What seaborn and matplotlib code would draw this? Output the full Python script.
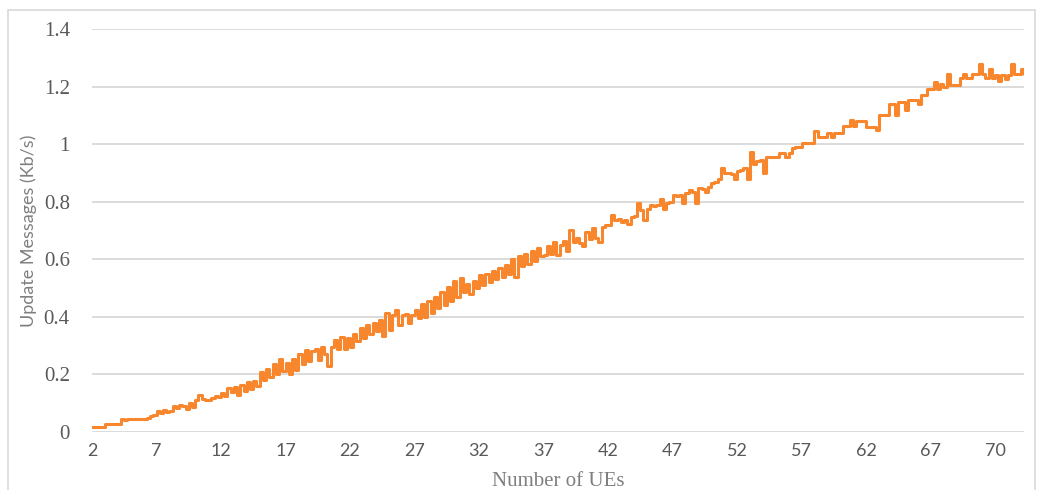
import matplotlib
matplotlib.use("Agg")
import matplotlib.pyplot as plt
import numpy as np
import pandas as pd
import seaborn as sns
from matplotlib.patches import Rectangle

# samples, 20 per labelled interval
seg_2_7 = [0.017, 0.017, 0.017, 0.017, 0.027, 0.027, 0.027, 0.027, 0.027, 0.045,
           0.040, 0.045, 0.045, 0.045, 0.045, 0.045, 0.045, 0.048, 0.055, 0.060]
seg_7_12 = [0.072, 0.065, 0.075, 0.070, 0.072, 0.090, 0.085, 0.095, 0.090, 0.080,
            0.100, 0.087, 0.110, 0.128, 0.115, 0.110, 0.112, 0.118, 0.125, 0.120]
seg_12_17 = [0.135, 0.125, 0.152, 0.138, 0.158, 0.128, 0.162, 0.142, 0.172, 0.148,
             0.178, 0.160, 0.208, 0.180, 0.218, 0.190, 0.235, 0.200, 0.255, 0.212]
seg_17_22 = [0.240, 0.200, 0.255, 0.215, 0.270, 0.235, 0.285, 0.245, 0.280, 0.290,
             0.250, 0.295, 0.270, 0.228, 0.295, 0.320, 0.290, 0.330, 0.290, 0.325]
seg_22_27 = [0.295, 0.340, 0.315, 0.360, 0.325, 0.370, 0.340, 0.380, 0.350, 0.390,
             0.335, 0.415, 0.355, 0.405, 0.425, 0.370, 0.405, 0.410, 0.380, 0.405]
seg_27_32 = [0.425, 0.395, 0.445, 0.400, 0.455, 0.415, 0.470, 0.430, 0.485, 0.440,
             0.505, 0.455, 0.525, 0.470, 0.535, 0.485, 0.515, 0.480, 0.525, 0.500]
seg_32_37 = [0.545, 0.510, 0.550, 0.520, 0.560, 0.530, 0.570, 0.540, 0.580, 0.550,
             0.600, 0.540, 0.610, 0.575, 0.620, 0.585, 0.630, 0.595, 0.640, 0.610]
seg_37_42 = [0.615, 0.645, 0.620, 0.660, 0.615, 0.650, 0.665, 0.630, 0.700, 0.660,
             0.675, 0.655, 0.645, 0.695, 0.670, 0.710, 0.675, 0.660, 0.712, 0.720]
seg_42_47 = [0.720, 0.755, 0.737, 0.740, 0.730, 0.737, 0.723, 0.747, 0.750, 0.795,
             0.770, 0.737, 0.775, 0.790, 0.785, 0.790, 0.810, 0.775, 0.795, 0.800]
seg_47_52 = [0.823, 0.820, 0.825, 0.795, 0.830, 0.840, 0.835, 0.795, 0.847, 0.845,
             0.835, 0.850, 0.865, 0.870, 0.880, 0.917, 0.900, 0.900, 0.895, 0.880]
seg_52_57 = [0.905, 0.910, 0.917, 0.880, 0.973, 0.930, 0.940, 0.945, 0.900, 0.955,
             0.955, 0.955, 0.955, 0.968, 0.968, 0.955, 0.968, 0.985, 0.990, 0.990]
seg_57_62 = [1.005, 1.005, 1.005, 1.005, 1.045, 1.025, 1.025, 1.025, 1.040, 1.025,
             1.040, 1.040, 1.040, 1.063, 1.063, 1.083, 1.063, 1.080, 1.080, 1.080]
seg_62_67 = [1.060, 1.060, 1.060, 1.050, 1.100, 1.100, 1.100, 1.140, 1.140, 1.100,
             1.147, 1.147, 1.118, 1.153, 1.153, 1.153, 1.140, 1.170, 1.170, 1.190]
seg_67_70 = [1.190, 1.215, 1.190, 1.210, 1.200, 1.245, 1.205, 1.205, 1.205, 1.230,
             1.245, 1.230, 1.230, 1.245, 1.245, 1.278, 1.245, 1.230, 1.260, 1.230]
seg_tail = [1.240, 1.220, 1.240, 1.225, 1.240, 1.278, 1.245, 1.245, 1.260, 1.245]

tick_labels = ["2", "7", "12", "17", "22", "27", "32", "37", "42", "47",
               "52", "57", "62", "67", "70"]

values = (seg_2_7 + seg_7_12 + seg_12_17 + seg_17_22 + seg_22_27 + seg_27_32
          + seg_32_37 + seg_37_42 + seg_42_47 + seg_47_52 + seg_52_57
          + seg_57_62 + seg_62_67 + seg_67_70 + seg_tail)
df = pd.DataFrame({"sample": np.arange(len(values)), "rate": values})

sns.set_style("white")
fig = plt.figure(figsize=(10.41, 4.9), dpi=100)
ax = fig.add_axes([0.0884, 0.1184, 0.8953, 0.8224])

sns.lineplot(data=df, x="sample", y="rate", ax=ax, color="#F7862C",
             linewidth=2.2, drawstyle="steps-post")

ax.set_xlim(0, len(values) - 1)
ax.set_ylim(0, 1.4)
ax.set_yticks([0, 0.2, 0.4, 0.6, 0.8, 1.0, 1.2, 1.4])
ax.set_yticklabels(["0", "0.2", "0.4", "0.6", "0.8", "1", "1.2", "1.4"],
                   family="Liberation Serif", fontsize=15, color="#595959")
ax.set_xticks(np.arange(len(tick_labels)) * 20)
ax.set_xticklabels(tick_labels, family="Lato", fontsize=13, color="#595959")
ax.tick_params(axis="y", length=0, pad=16)
ax.tick_params(axis="x", length=0, pad=8)

ax.grid(axis="y", color="#D9D9D9", linewidth=1.3)
ax.grid(axis="x", visible=False)
ax.set_axisbelow(True)
for s in ax.spines.values():
    s.set_visible(False)

ax.set_xlabel("Number of UEs", family="Liberation Serif", fontsize=15,
              color="#7F7F7F", labelpad=9)
ax.set_ylabel("Update Messages (Kb/s)", family="Lato", fontsize=13,
              color="#7F7F7F", labelpad=5)

fig.patches.append(Rectangle((8 / 1041, -0.05), 1027 / 1041, 1.0 - 10 / 490 + 0.05,
                             transform=fig.transFigure, fill=False,
                             edgecolor="#D9D9D9", linewidth=1.2))

fig.savefig("out.png", dpi=100)
